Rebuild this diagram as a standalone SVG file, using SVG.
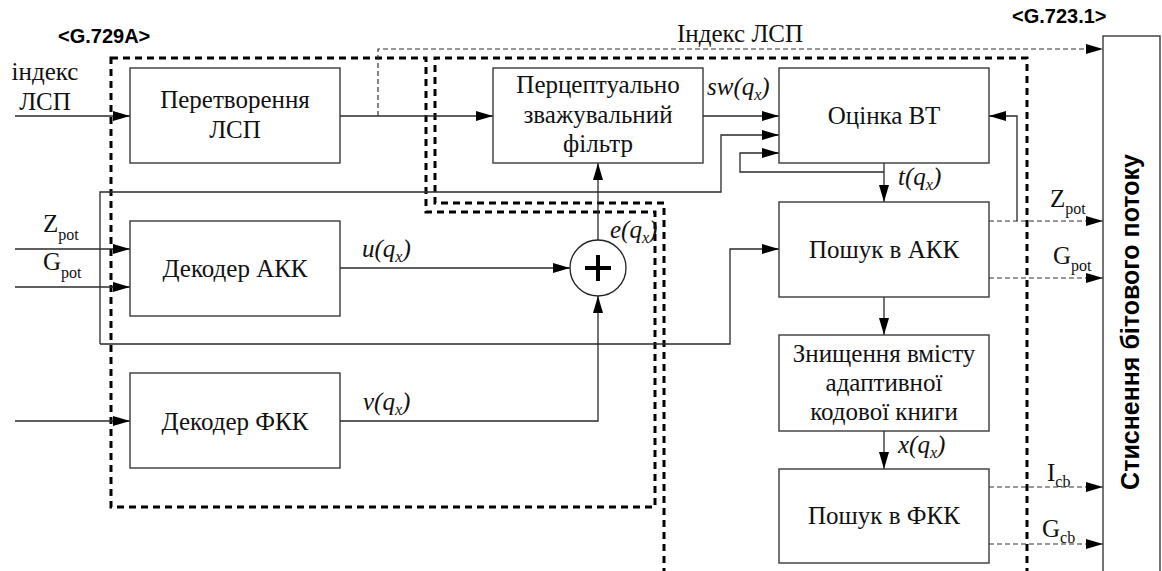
<svg xmlns="http://www.w3.org/2000/svg" width="1162" height="571" viewBox="0 0 1162 571">
<defs>
<style>
.box{fill:#fff;stroke:#3a3a3a;stroke-width:1.4}
.ln{fill:none;stroke:#2a2a2a;stroke-width:1.3}
.dl{fill:none;stroke:#333;stroke-width:1.2;stroke-dasharray:5 3}
.grp{fill:none;stroke:#000;stroke-width:3;stroke-dasharray:7 5}
.t{font-family:"Liberation Serif","Times New Roman",serif;font-size:25px;fill:#111}
.c{text-anchor:middle}
.it{font-style:italic}
.sub{font-size:16px}
.b{font-family:"Liberation Sans",Arial,sans-serif;font-weight:bold;font-size:20px;fill:#000}
</style>
<marker id="ah" viewBox="0 0 17 10" refX="17" refY="5" markerWidth="17" markerHeight="10" markerUnits="userSpaceOnUse" orient="auto">
<path d="M0,0 L17,5 L0,10 Z" fill="#000" stroke="none"/>
</marker>
</defs>
<rect width="1162" height="571" fill="#fff"/>

<g id="groups">
<path class="grp" d="M111,58 L426,58 L426,212 L655,212 L655,507 L111,507 Z"/>
<path class="grp" d="M664,575 L664,203 L435,203 L435,58 L1027,58 L1027,575"/>
</g>

<g id="connectors">
<path class="ln" d="M15,116 L130,116" marker-end="url(#ah)"/>
<path class="ln" d="M340,116 L493,116" marker-end="url(#ah)"/>
<path class="dl" d="M378,116 L378,49 L1103,49" marker-end="url(#ah)"/>
<path class="ln" d="M703,116 L779,116" marker-end="url(#ah)"/>
<path class="ln" d="M100,344 L100,192 L721,192 L721,135 L779,135" marker-end="url(#ah)"/>
<path class="ln" d="M884,163 L884,202" marker-end="url(#ah)"/>
<path class="ln" d="M884,172 L740,172 L740,153 L779,153" marker-end="url(#ah)"/>
<path class="ln" d="M1017,221 L1017,116 L989,116" marker-end="url(#ah)"/>
<path class="dl" d="M989,221 L1103,221" marker-end="url(#ah)"/>
<path class="dl" d="M989,278 L1103,278" marker-end="url(#ah)"/>
<path class="ln" d="M884,297 L884,335" marker-end="url(#ah)"/>
<path class="ln" d="M884,431 L884,469" marker-end="url(#ah)"/>
<path class="dl" d="M989,487 L1103,487" marker-end="url(#ah)"/>
<path class="dl" d="M989,544 L1103,544" marker-end="url(#ah)"/>
<path class="ln" d="M15,249 L130,249" marker-end="url(#ah)"/>
<path class="ln" d="M15,287 L130,287" marker-end="url(#ah)"/>
<path class="ln" d="M15,421 L130,421" marker-end="url(#ah)"/>
<path class="ln" d="M340,268 L570,268" marker-end="url(#ah)"/>
<path class="ln" d="M340,421 L598,421 L598,296" marker-end="url(#ah)"/>
<path class="ln" d="M598,240 L598,163" marker-end="url(#ah)"/>
<path class="ln" d="M100,344 L730,344 L730,249 L779,249" marker-end="url(#ah)"/>
</g>

<g id="n_lsp">
<rect class="box" x="130" y="68" width="210" height="95"/>
<text class="t c" x="235" y="108">Перетворення</text>
<text class="t c" x="235" y="138">ЛСП</text>
</g>
<g id="n_pf">
<rect class="box" x="493" y="68" width="210" height="95"/>
<text class="t c" x="598" y="93">Перцептуально</text>
<text class="t c" x="598" y="123">зважувальний</text>
<text class="t c" x="598" y="152">фільтр</text>
</g>
<g id="n_vt">
<rect class="box" x="779" y="68" width="210" height="95"/>
<text class="t c" x="884" y="124">Оцінка ВТ</text>
</g>
<g id="n_akk_search">
<rect class="box" x="779" y="202" width="210" height="95"/>
<text class="t c" x="884" y="258">Пошук в АКК</text>
</g>
<g id="n_destroy">
<rect class="box" x="779" y="335" width="210" height="96"/>
<text class="t c" x="884" y="362">Знищення вмісту</text>
<text class="t c" x="884" y="391">адаптивної</text>
<text class="t c" x="884" y="420">кодової книги</text>
</g>
<g id="n_fkk_search">
<rect class="box" x="779" y="469" width="210" height="94"/>
<text class="t c" x="884" y="524">Пошук в ФКК</text>
</g>
<g id="n_dec_akk">
<rect class="box" x="130" y="221" width="210" height="95"/>
<text class="t c" x="235" y="277">Декодер АКК</text>
</g>
<g id="n_dec_fkk">
<rect class="box" x="130" y="373" width="210" height="95"/>
<text class="t c" x="235" y="430">Декодер ФКК</text>
</g>
<g id="n_adder">
<circle cx="598" cy="268" r="28" fill="#fff" stroke="#222" stroke-width="1.3"/>
<path d="M585,268 L611,268 M598,255 L598,281" stroke="#000" stroke-width="4" fill="none"/>
</g>
<g id="n_bitstream">
<rect class="box" x="1103" y="36" width="57" height="560"/>
<text class="b" text-anchor="middle" transform="translate(1139,322) rotate(-90)" style="font-size:25px">Стиснення бітового потоку</text>
</g>

<g id="labels">
<text class="b" x="58" y="43">&lt;G.729A&gt;</text>
<text class="b" x="1012" y="23">&lt;G.723.1&gt;</text>
<text class="t c" x="45" y="80">індекс</text>
<text class="t c" x="45" y="110">ЛСП</text>
<text class="t" x="677" y="42">Індекс ЛСП</text>
<text class="t it" x="707" y="95">sw(q<tspan class="sub" dy="5">x</tspan><tspan dy="-5">)</tspan></text>
<text class="t it" x="898" y="185">t(q<tspan class="sub" dy="5">x</tspan><tspan dy="-5">)</tspan></text>
<text class="t it" x="362" y="257">u(q<tspan class="sub" dy="5">x</tspan><tspan dy="-5">)</tspan></text>
<text class="t it" x="363" y="410">v(q<tspan class="sub" dy="5">x</tspan><tspan dy="-5">)</tspan></text>
<text class="t it" x="610" y="238">e(q<tspan class="sub" dy="5">x</tspan><tspan dy="-5">)</tspan></text>
<text class="t it" x="898" y="453">x(q<tspan class="sub" dy="5">x</tspan><tspan dy="-5">)</tspan></text>
<text class="t" x="43" y="232">Z<tspan class="sub" dy="8">pot</tspan></text>
<text class="t" x="43" y="270">G<tspan class="sub" dy="8">pot</tspan></text>
<text class="t" x="1050" y="207">Z<tspan class="sub" dy="7">pot</tspan></text>
<text class="t" x="1053" y="264">G<tspan class="sub" dy="7">pot</tspan></text>
<text class="t" x="1047" y="481">I<tspan class="sub" dy="6">cb</tspan></text>
<text class="t" x="1042" y="537">G<tspan class="sub" dy="6">cb</tspan></text>
</g>
</svg>
